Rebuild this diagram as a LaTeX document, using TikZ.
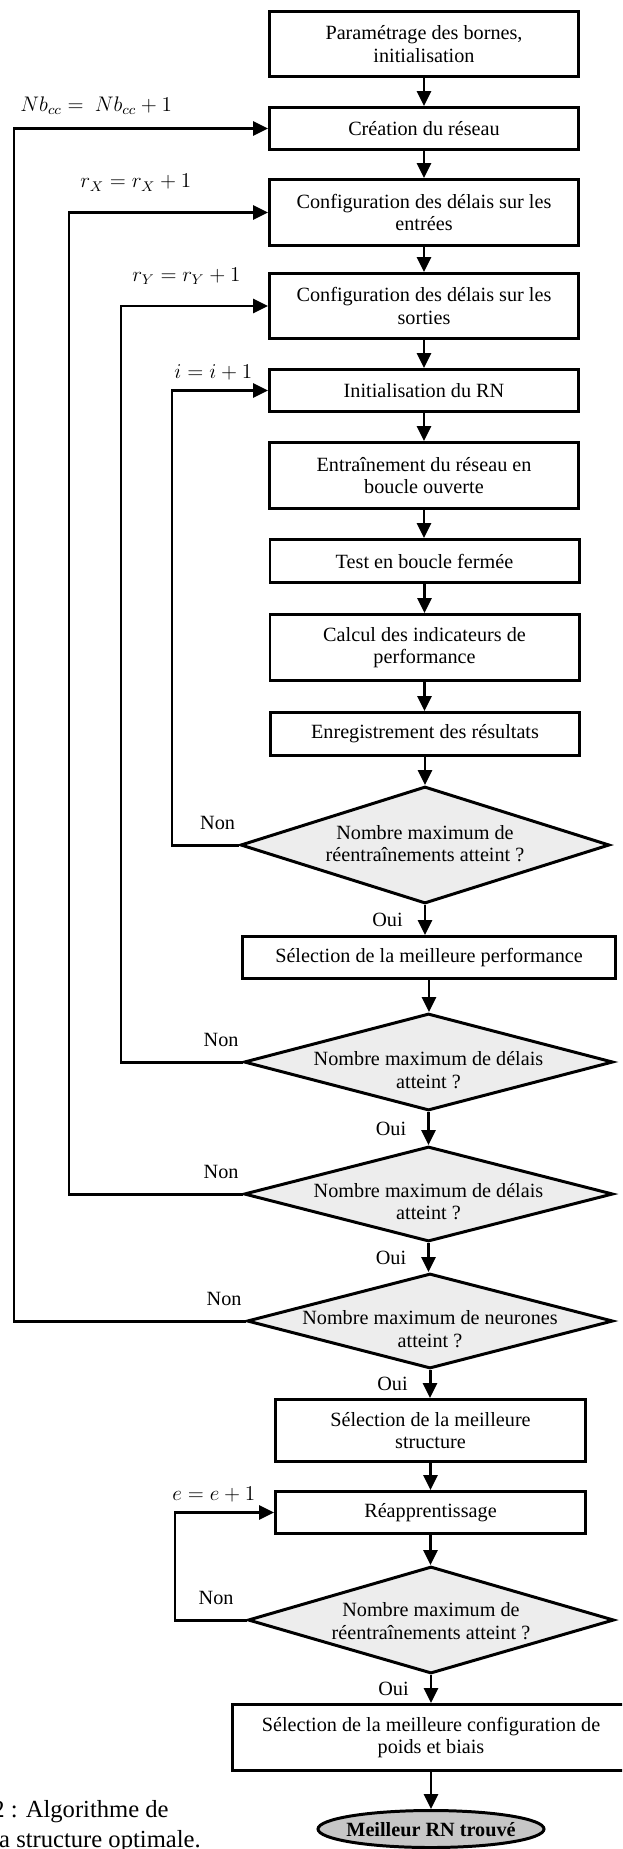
\documentclass[tikz,border=0pt]{standalone}
\usepackage{fontspec}
\setmainfont{Liberation Serif}
\usepackage{tikz}
\usepackage{xcolor}
\usetikzlibrary{arrows.meta,positioning,shapes.geometric}
\definecolor{ink}{HTML}{000000}
\definecolor{diafill}{HTML}{EDEDED}
\definecolor{endfill}{HTML}{C6C6C6}
\newcommand{\dtxt}[2][-2.9pt]{\makebox[0pt]{\raisebox{#1}[0pt][0pt]{%
  \begin{tabular}{@{}c@{}}#2\end{tabular}}}}
\tikzset{
  stepbox/.style={draw=ink,line width=1.7pt,align=center,inner sep=2pt,
                  minimum width=6.18cm,font=\fontsize{11.5}{12.9}\selectfont},
  decision/.style={diamond,draw=ink,fill=diafill,line width=1.7pt,inner sep=0pt,
                   font=\fontsize{11.5}{12.9}\selectfont},
  endnode/.style={ellipse,draw=ink,fill=endfill,line width=1.7pt,inner sep=0pt,
                  minimum width=4.52cm,minimum height=0.74cm,
                  font=\fontsize{11.5}{12.9}\selectfont\bfseries},
  flow/.style={-{Triangle[length=3mm,width=2.8mm]},line width=1.7pt,draw=ink},
  oui/.style={left=3mm,font=\fontsize{11.5}{12.9}\selectfont},
  non/.style={pos=0,inner sep=0pt,above left=0.27cm and 0.05cm,
              font=\fontsize{11.5}{12.9}\selectfont},
  inc/.style={inner sep=0pt,font=\fontsize{12}{14}\selectfont},
  legende/.style={inner sep=0pt,align=left,font=\fontsize{14}{17}\selectfont}
}

\begin{document}
\begin{tikzpicture}[x=1cm,y=1cm]
    \useasboundingbox (0,0) rectangle (12.44,-36.98);
    \clip (0,0) rectangle (12.44,-36.98);

    % main column
    \node[stepbox,minimum height=1.30cm] (param) at (8.48,-0.88)
      {Paramétrage des bornes,\\initialisation};
    \node[stepbox,minimum height=0.84cm] (creation) at (8.48,-2.57)
      {Création du réseau};
    \node[stepbox,minimum height=1.32cm] (entrees) at (8.48,-4.25)
      {Configuration des délais sur les\\entrées};
    \node[stepbox,minimum height=1.30cm] (sorties) at (8.48,-6.12)
      {Configuration des délais sur les\\sorties};
    \node[stepbox,minimum height=0.84cm] (initrn) at (8.48,-7.81)
      {Initialisation du RN};
    \node[stepbox,minimum height=1.32cm] (entrain) at (8.48,-9.51)
      {Entraînement du réseau en\\boucle ouverte};
    \node[stepbox,minimum height=0.86cm] (test) at (8.49,-11.22)
      {Test en boucle fermée};
    \node[stepbox,minimum height=1.32cm] (calcul) at (8.49,-12.95)
      {Calcul des indicateurs de\\performance};
    \node[stepbox,minimum height=0.86cm] (enreg) at (8.50,-14.68)
      {Enregistrement des résultats};
    \node[decision,minimum width=7.38cm,minimum height=2.34cm] (maxRe) at (8.50,-16.90)
      {\dtxt[-3.5pt]{Nombre maximum de\\réentraînements atteint ?}};
    \node[stepbox,minimum width=7.46cm,minimum height=0.84cm] (selperf) at (8.58,-19.15)
      {Sélection de la meilleure performance};
    \node[decision,minimum width=7.38cm,minimum height=1.94cm] (maxDelY) at (8.57,-21.24)
      {\dtxt[-9.1pt]{Nombre maximum de délais\\atteint ?}};
    \node[decision,minimum width=7.38cm,minimum height=1.90cm] (maxDelX) at (8.57,-23.88)
      {\dtxt[-8.7pt]{Nombre maximum de délais\\atteint ?}};
    \node[decision,minimum width=7.32cm,minimum height=1.90cm] (maxNeur) at (8.60,-26.42)
      {\dtxt[-9.1pt]{Nombre maximum de neurones\\atteint ?}};
    \node[stepbox,minimum width=6.20cm,minimum height=1.24cm] (selstruct) at (8.61,-28.61)
      {Sélection de la meilleure\\structure};
    \node[stepbox,minimum width=6.20cm,minimum height=0.84cm] (reapp) at (8.61,-30.25)
      {Réapprentissage};
    \node[decision,minimum width=7.32cm,minimum height=2.14cm] (maxRe2) at (8.62,-32.40)
      {\dtxt[-4.9pt]{Nombre maximum de\\réentraînements atteint ?}};
    \node[stepbox,minimum width=7.94cm,minimum height=1.32cm] (selconf) at (8.62,-34.75)
      {Sélection de la meilleure configuration de\\poids et biais};
    \node[endnode] (fin) at (8.62,-36.58) {\dtxt[-4.5pt]{Meilleur RN trouvé}};

    % caption, cut by the frame
    \node[legende,anchor=north west] (caption) at (-0.16,-36.00)
      {2 : Algorithme de\\la structure optimale.};

    % downward links
    \foreach \a/\b in {param/creation,creation/entrees,entrees/sorties,
                       sorties/initrn,initrn/entrain,entrain/test,test/calcul,
                       calcul/enreg,enreg/maxRe,selperf/maxDelY,
                       selstruct/reapp,reapp/maxRe2,selconf/fin}
      \draw[flow] (\a.south) -- (\a.south |- \b.north);
    \foreach \a/\b in {maxRe/selperf,maxDelY/maxDelX,maxDelX/maxNeur,
                       maxNeur/selstruct,maxRe2/selconf}
      \draw[flow] (\a.south) -- node[oui] {Oui} (\a.south |- \b.north);

    % loop lanes
    \coordinate (laneNb) at (0.28,0);
    \coordinate (laneX) at (1.38,0);
    \coordinate (laneY) at (2.42,0);
    \coordinate (laneI) at (3.44,0);
    \coordinate (laneE) at (3.50,0);

    \draw[flow] (maxRe.west) -- node[non] {Non} (maxRe.west -| laneI)
      |- node[pos=0.5,inc,above right=0.17cm and 0.02cm] {$i=i+1$} (initrn.west);
    \draw[flow] (maxDelY.west) -- node[non] {Non} (maxDelY.west -| laneY)
      |- node[pos=0.5,inc,above right=0.40cm and 0.2cm] {$r_Y=r_Y+1$} (sorties.west);
    \draw[flow] (maxDelX.west) -- node[non] {Non} (maxDelX.west -| laneX)
      |- node[pos=0.5,inc,above right=0.40cm and 0.2cm] {$r_X=r_X+1$} (entrees.west);
    \draw[flow] (maxNeur.west) -- node[non] {Non} (maxNeur.west -| laneNb)
      |- node[pos=0.5,inc,above right=0.25cm and 0.1cm] {$Nb_{cc}=\ Nb_{cc}+1$} (creation.west);
    \draw[flow] (maxRe2.west) -- node[non,xshift=-0.18cm] {Non} (maxRe2.west -| laneE)
      |- node[pos=0.5,inc,above right=0.17cm and -0.08cm] {$e=e+1$} (reapp.west);
\end{tikzpicture}
\end{document}
